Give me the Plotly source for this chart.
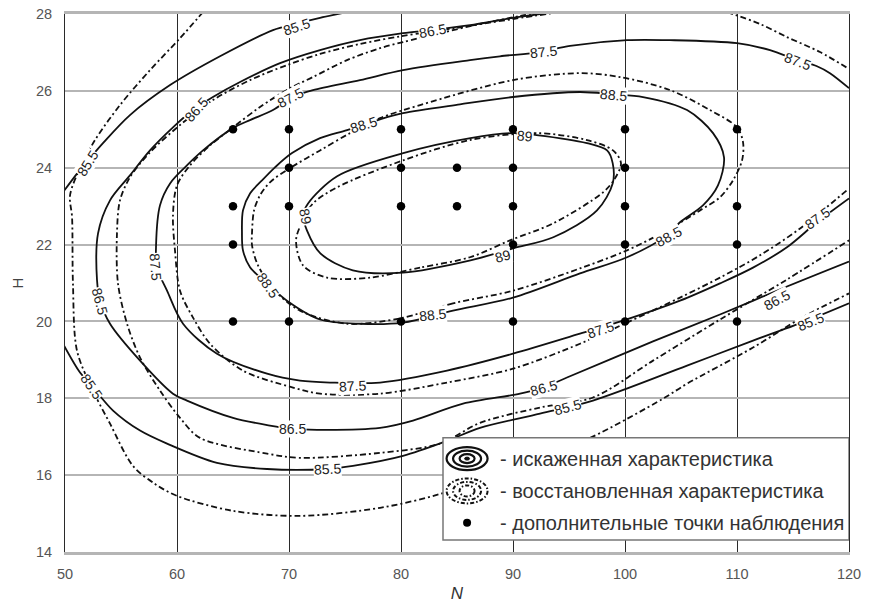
import plotly.graph_objects as go

# ---------------- isolines of the efficiency field, traced as (N, H) ----------------
# distorted characteristic (solid lines)
dist_89_N = [71.25, 71.7, 74.3, 80.2, 86.2, 90.0, 92.1, 96.6, 98.4, 98.9, 98.9, 97.5, 93.6, 90.0, 86.2, 80.2, 75.7, 72.8, 71.6, 71.25]
dist_89_H = [22.76, 23.07, 23.78, 24.38, 24.77, 24.9, 24.85, 24.64, 24.45, 24.12, 23.59, 22.89, 22.19, 21.9, 21.59, 21.27, 21.33, 21.77, 22.37, 22.76]

dist_885_N = [65.8, 65.89, 66.52, 67.59, 68.75, 70.27, 72.77, 75.18, 78.13, 80.18, 85.27, 90.0, 95.98, 98.93, 101.61, 105.54, 107.86, 108.84, 108.3, 106.96,
              104.91, 103.75, 100.18, 95.98, 90.0, 84.64, 80.18, 76.34, 72.77, 69.82, 68.04, 66.52, 65.89, 65.8]
dist_885_H = [22.32, 22.89, 23.33, 23.67, 24.01, 24.38, 24.77, 24.98, 25.26, 25.42, 25.65, 25.84, 25.97, 25.91, 25.84, 25.5, 24.9, 24.27, 23.54, 23.02,
              22.58, 22.24, 21.67, 21.25, 20.62, 20.28, 19.97, 19.94, 20.05, 20.54, 20.99, 21.41, 21.85, 22.32]

dist_875_N = [120.0, 118.3, 117.14, 115.36, 112.95, 110.0, 104.02, 100.18, 95.09, 92.41, 88.84, 86.16, 80.18, 76.34, 72.14, 70.36, 68.57, 66.52, 65.0, 62.32,
              60.71, 59.38, 58.48, 58.13, 58.21, 59.11, 60.54, 63.57, 68.04, 70.98, 73.66, 78.13, 84.11, 90.0, 95.98, 99.82, 104.91, 108.48, 111.43, 114.46,
              117.14, 120.0]
dist_875_H = [26.07, 26.46, 26.64, 26.8, 27.06, 27.24, 27.32, 27.32, 27.17, 27.01, 26.9, 26.8, 26.54, 26.28, 26.02, 25.84, 25.5, 25.24, 25.03, 24.45,
              24.01, 23.59, 23.02, 21.98, 21.4, 20.8, 19.94, 19.16, 18.64, 18.46, 18.41, 18.41, 18.72, 19.16, 19.68, 20.02, 20.54, 20.99, 21.4, 21.93,
              22.58, 23.2]

dist_865_N = [93.75, 90.0, 86.16, 82.59, 80.18, 76.34, 72.77, 69.2, 65.63, 63.21, 61.43, 59.64, 57.59, 55.8, 54.02, 52.95, 52.86, 53.13, 54.02, 56.7,
              59.64, 60.89, 65.0, 68.3, 70.09, 72.5, 78.13, 81.07, 85.54, 90.63, 92.68, 94.82, 102.5, 108.48, 114.46, 120.0]
dist_865_H = [28.05, 27.9, 27.71, 27.58, 27.5, 27.32, 27.06, 26.72, 26.23, 25.84, 25.5, 25.05, 24.45, 23.8, 23.15, 22.29, 21.07, 20.54, 19.94, 18.98,
              18.12, 17.94, 17.49, 17.29, 17.21, 17.18, 17.23, 17.42, 17.86, 18.12, 18.28, 18.54, 19.48, 20.18, 20.91, 21.56]

dist_855a_N = [49.82, 51.16, 52.23, 53.39, 55.8, 59.38, 63.84, 68.57, 70.54, 72.77, 75.18]
dist_855a_H = [23.36, 23.88, 24.25, 24.64, 25.37, 26.15, 26.9, 27.58, 27.74, 27.9, 28.05]
dist_855b_N = [49.82, 51.34, 52.23, 54.29, 56.7, 59.11, 63.57, 68.04, 73.39, 75.71, 80.18, 84.11, 87.05, 92.41, 97.14, 105.54, 111.43, 116.25, 120.0]
dist_855b_H = [19.42, 18.67, 18.38, 17.68, 17.16, 16.82, 16.32, 16.16, 16.16, 16.24, 16.5, 16.89, 17.23, 17.6, 17.94, 18.85, 19.5, 20.02, 20.47]

# restored characteristic (dash-dot lines)
rest_89_N = [71.16, 72.14, 74.29, 80.18, 86.16, 92.14, 96.61, 98.93, 99.64, 99.1, 98.04, 93.57, 89.73, 86.16, 81.7, 77.23, 73.39, 71.25, 70.63, 71.16]
rest_89_H = [22.58, 23.07, 23.49, 24.19, 24.72, 24.9, 24.72, 24.45, 24.12, 23.72, 23.36, 22.55, 22.11, 21.67, 21.4, 21.14, 21.14, 21.46, 22.11, 22.58]

rest_885_N = [66.7, 66.88, 67.41, 68.3, 70.09, 72.77, 75.45, 78.13, 81.7, 90.0, 95.98, 99.55, 104.02, 107.59, 110.0, 110.54, 110.45, 109.64, 108.48, 106.7,
              103.75, 100.18, 95.98, 90.0, 84.64, 79.91, 75.18, 70.98, 68.75, 67.23, 66.7, 66.7]
rest_885_H = [22.32, 22.89, 23.28, 23.62, 23.99, 24.45, 24.9, 25.29, 25.63, 26.28, 26.46, 26.36, 26.02, 25.5, 25.05, 24.66, 24.19, 23.67, 23.23, 22.89,
              22.37, 21.85, 21.38, 20.8, 20.47, 20.08, 19.94, 20.28, 20.8, 21.46, 21.98, 22.32]

rest_875a_N = [92.41, 90.63, 87.05, 83.48, 80.18, 78.13, 75.18, 72.14, 70.09, 67.41, 65.0, 62.95, 61.16, 60.0, 59.64, 59.82, 60.27, 61.43, 62.95, 65.89,
               70.36, 72.77, 78.13, 84.11, 90.0, 95.98, 100.18, 104.91, 108.48, 112.05, 115.63, 120.0]
rest_875a_H = [28.05, 27.95, 27.74, 27.5, 27.27, 27.11, 26.8, 26.36, 26.07, 25.58, 25.05, 24.58, 24.06, 23.54, 22.76, 21.85, 20.8, 20.1, 19.42, 18.72,
               18.28, 18.12, 18.12, 18.41, 18.77, 19.42, 19.97, 20.62, 21.14, 21.72, 22.42, 23.46]
rest_875b_N = [109.11, 112.05, 114.46, 117.41, 120.0]
rest_875b_H = [28.05, 27.74, 27.4, 27.01, 26.57]

rest_865_N = [94.2, 90.0, 85.0, 80.18, 76.34, 72.77, 69.82, 66.52, 63.21, 60.27, 57.59, 55.8, 54.91, 54.64, 54.73, 55.54, 56.7, 58.48, 60.27, 62.05,
              68.04, 70.98, 78.13, 83.48, 87.05, 92.41, 97.14, 102.5, 108.48, 114.46, 120.0]
rest_865_H = [28.05, 27.87, 27.64, 27.43, 27.22, 26.96, 26.67, 26.28, 25.76, 25.11, 24.4, 23.75, 23.15, 22.29, 20.99, 19.94, 19.06, 18.2, 17.49, 16.97,
              16.56, 16.45, 16.58, 16.82, 17.36, 17.76, 18.02, 18.98, 20.05, 21.09, 22.11]

rest_855_N = [62.32, 60.27, 57.59, 54.91, 52.68, 51.34, 50.45, 50.63, 50.71, 51.07, 52.5, 54.02, 56.07, 58.04, 60.0, 65.0, 70.98, 78.13, 83.48, 90.63,
              96.88, 103.39, 105.54, 111.43, 115.63, 120.0]
rest_855_H = [28.05, 27.37, 26.54, 25.63, 24.72, 23.99, 23.28, 22.71, 20.99, 19.24, 18.2, 17.34, 16.24, 15.77, 15.46, 15.07, 14.94, 15.15, 15.51, 16.24,
              16.97, 17.99, 18.38, 19.32, 20.07, 20.73]

# additional observation points
obs_N = [65, 65, 65, 65, 70, 70, 70, 70, 80, 80, 80, 80, 85, 85, 90, 90, 90, 90, 90, 100, 100, 100, 100, 100, 110, 110, 110, 110]
obs_H = [25, 23, 22, 20, 25, 24, 23, 20, 25, 24, 23, 20, 24, 23, 25, 24, 23, 22, 20, 25, 24, 23, 22, 20, 25, 23, 22, 20]

# axis ticks
n_ticks = [50, 60, 70, 80, 90, 100, 110, 120]
h_ticks = [14, 16, 18, 20, 22, 24, 26, 28]

legend_texts = ["- искаженная характеристика",
                "- восстановленная характеристика",
                "- дополнительные точки наблюдения"]

# inline level labels: (level, N, H, rotation)
label_spots = [
    (85.5, 70.63, 27.66, -18), (85.5, 52.05, 24.12, -58), (86.5, 61.7, 25.5, -48),
    (87.5, 70.09, 25.81, -28), (86.5, 82.77, 27.56, -10), (87.5, 92.68, 27.01, -6),
    (87.5, 115.36, 26.77, 20), (88.5, 76.61, 25.11, -17), (88.5, 98.93, 25.89, 5),
    (89, 91.07, 24.82, 5), (89, 71.52, 22.73, 78), (89, 89.11, 21.69, -15),
    (88.5, 82.77, 20.18, -6), (88.5, 68.13, 20.96, 55), (88.5, 103.84, 22.21, -28),
    (87.5, 58.04, 21.43, 85), (86.5, 53.13, 20.54, 75), (85.5, 52.41, 18.3, 55),
    (87.5, 75.63, 18.33, -3), (86.5, 70.27, 17.21, 0), (85.5, 73.48, 16.16, -3),
    (87.5, 97.77, 19.79, -18), (86.5, 92.68, 18.28, -15), (85.5, 94.91, 17.78, -15),
    (87.5, 117.23, 22.68, -35), (86.5, 113.57, 20.57, -28), (85.5, 116.52, 19.99, -22),
]

FONT = "Liberation Sans, Arial, sans-serif"
DASHDOT = "6px,3px,2px,3px"


def reseam(xs, ys, k):
    """Start a closed loop at index k so the spline seam falls on a flat stretch."""
    ring_x, ring_y = xs[:-1], ys[:-1]
    rx = ring_x[k:] + ring_x[:k]
    ry = ring_y[k:] + ring_y[:k]
    return rx + rx[:1], ry + ry[:1]


fig = go.Figure()

solid_sets = [reseam(dist_89_N, dist_89_H, 13), reseam(dist_885_N, dist_885_H, 24),
              (dist_875_N, dist_875_H), (dist_865_N, dist_865_H),
              (dist_855a_N, dist_855a_H), (dist_855b_N, dist_855b_H)]
dash_sets = [reseam(rest_89_N, rest_89_H, 13), reseam(rest_885_N, rest_885_H, 23),
             (rest_875a_N, rest_875a_H), (rest_875b_N, rest_875b_H),
             (rest_865_N, rest_865_H), (rest_855_N, rest_855_H)]

for xs, ys in dash_sets:
    fig.add_trace(go.Scatter(x=xs, y=ys, mode="lines", showlegend=False, hoverinfo="skip",
                             line=dict(color="#111", width=1.8, dash=DASHDOT, shape="spline", smoothing=0.9)))
for xs, ys in solid_sets:
    fig.add_trace(go.Scatter(x=xs, y=ys, mode="lines", showlegend=False, hoverinfo="skip",
                             line=dict(color="#111", width=1.8, shape="spline", smoothing=0.9)))

fig.add_trace(go.Scatter(x=obs_N, y=obs_H, mode="markers", showlegend=False,
                         marker=dict(color="#000", size=8.5)))

# level labels sitting in gaps of the isolines
for lvl, n, h, ang in label_spots:
    fig.add_annotation(x=n, y=h, xref="x", yref="y", text=f"{lvl:g}", showarrow=False,
                       textangle=ang, bgcolor="white", borderpad=0,
                       font=dict(family=FONT, size=14, color="#222"))

# ---------------- hand-made legend box ----------------
shapes = [dict(type="rect", xref="x", yref="y", x0=83.75, x1=120, y0=14.31, y1=16.97,
               fillcolor="white", line=dict(color="#777", width=1.5), layer="above")]
icon_n = 85.9
row_h = [16.43, 15.59, 14.76]
ring_sizes = [(20.5, 11.5), (14, 8), (7.5, 4.5)]
for i, (rx, ry) in enumerate(ring_sizes):
    shapes.append(dict(type="circle", xref="x", yref="y", xsizemode="pixel", ysizemode="pixel",
                       xanchor=icon_n, yanchor=row_h[0], x0=-rx, x1=rx, y0=-ry, y1=ry,
                       line=dict(color="#111", width=2.2), layer="above"))
    shapes.append(dict(type="circle", xref="x", yref="y", xsizemode="pixel", ysizemode="pixel",
                       xanchor=icon_n, yanchor=row_h[1], x0=-rx, x1=rx, y0=-ry - 1, y1=ry + 1,
                       line=dict(color="#111", width=2.0, dash="4px,2px,1.5px,2px"), layer="above"))
shapes.append(dict(type="circle", xref="x", yref="y", xsizemode="pixel", ysizemode="pixel",
                   xanchor=icon_n, yanchor=row_h[0], x0=-2.5, x1=2.5, y0=-1.5, y1=1.5,
                   fillcolor="#111", line=dict(color="#111", width=1), layer="above"))
shapes.append(dict(type="circle", xref="x", yref="y", xsizemode="pixel", ysizemode="pixel",
                   xanchor=icon_n, yanchor=row_h[2], x0=-4, x1=4, y0=-4, y1=4,
                   fillcolor="#000", line=dict(color="#000", width=0), layer="above"))

for txt, h in zip(legend_texts, row_h):
    fig.add_annotation(x=88.66, y=h, xref="x", yref="y", text=txt, showarrow=False,
                       xanchor="left", yanchor="middle",
                       font=dict(family=FONT, size=20, color="#333"))

fig.update_layout(
    width=869, height=603,
    margin=dict(l=65, r=20, t=14, b=51),
    paper_bgcolor="white", plot_bgcolor="white",
    shapes=shapes,
    font=dict(family=FONT),
    xaxis=dict(range=[50, 120], tickvals=n_ticks, showgrid=True, gridcolor="#2a2a2a", gridwidth=1,
               showline=True, linecolor="#b5b5b5", linewidth=2.5, mirror=True, zeroline=False,
               automargin=False,
               ticks="", ticklabelstandoff=7, tickfont=dict(size=14.5, color="#555"),
               title=dict(text="<i>N</i>", font=dict(size=17, color="#333"), standoff=9)),
    yaxis=dict(range=[14, 28], tickvals=h_ticks, showgrid=True, gridcolor="#b5b5b5", gridwidth=2,
               showline=True, linecolor="#2a2a2a", linewidth=1, mirror=True, zeroline=False,
               automargin=False,
               ticks="", ticklabelstandoff=9, tickfont=dict(size=14.5, color="#555"),
               title=dict(text="H", font=dict(size=15, color="#444"), standoff=8)),
)

fig.write_html("out.html")
